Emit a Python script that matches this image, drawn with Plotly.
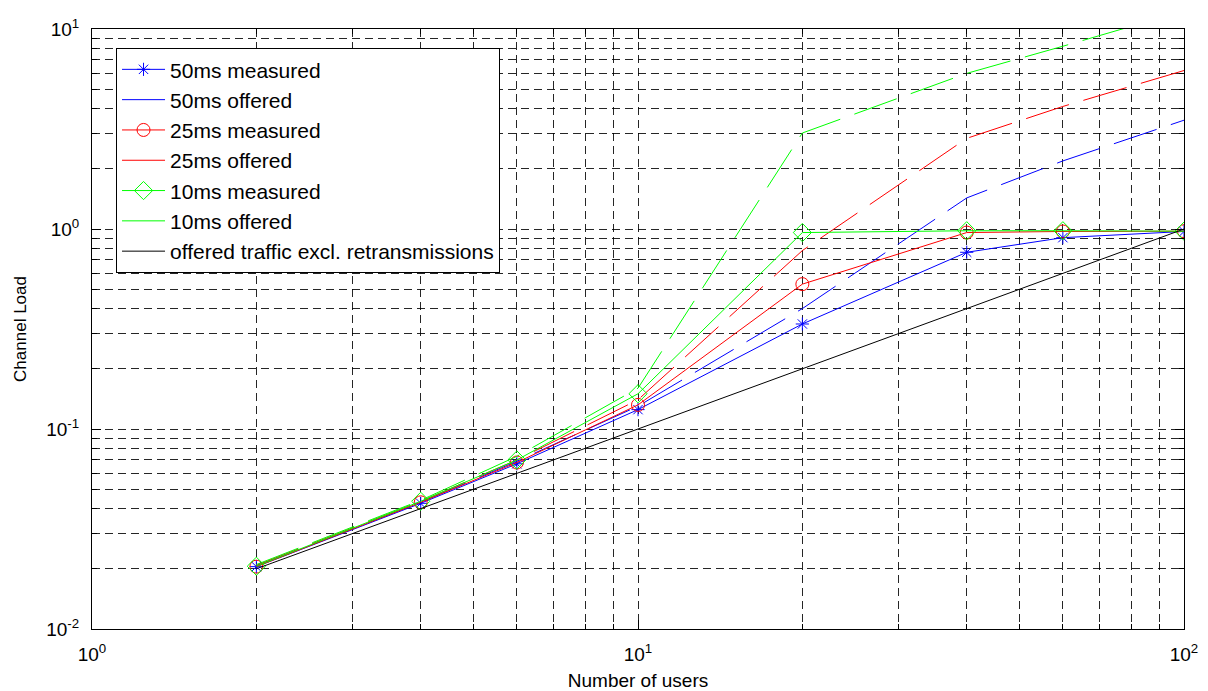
import plotly.graph_objects as go

users = [2, 4, 6, 10, 20, 40, 60, 100]
measured_50 = [0.0205, 0.0425, 0.067, 0.125, 0.335, 0.765, 0.905, 0.972]
offered_50 = [0.0207, 0.0430, 0.069, 0.130, 0.40, 1.43, 2.19, 3.50]
measured_25 = [0.0205, 0.0430, 0.068, 0.132, 0.53, 0.96, 0.972, 0.975]
offered_25 = [0.0208, 0.0435, 0.070, 0.140, 0.78, 2.84, 4.10, 6.20]
measured_10 = [0.0206, 0.0435, 0.070, 0.150, 0.96, 0.98, 0.98, 0.975]
offered_10 = [0.0210, 0.0440, 0.073, 0.160, 3.02, 6.00, 8.20, 12.3]
offered_excl = [0.02, 0.04, 0.06, 0.10, 0.20, 0.40, 0.60, 1.00]

x_tickvals = [1, 10, 100]
x_ticktext = ["10<sup>0</sup>", "10<sup>1</sup>", "10<sup>2</sup>"]
y_tickvals = [0.01, 0.1, 1, 10]
y_ticktext = ["10<sup>-2</sup>", "10<sup>-1</sup>", "10<sup>0</sup>", "10<sup>1</sup>"]
x_minor = [2, 3, 4, 5, 6, 7, 8, 9, 20, 30, 40, 50, 60, 70, 80, 90]
y_minor = [0.02, 0.03, 0.04, 0.05, 0.06, 0.07, 0.08, 0.09,
           0.2, 0.3, 0.4, 0.5, 0.6, 0.7, 0.8, 0.9,
           2, 3, 4, 5, 6, 7, 8, 9]

BLUE, RED, GREEN, BLACK = "#0000FF", "#FF0000", "#00FF00", "#000000"
DASH = "45px,15px"
FONT = "Liberation Sans, Arial"

fig = go.Figure()
fig.add_trace(go.Scatter(x=users, y=measured_50, name="50ms measured", mode="lines+markers", legendgroup="a",
                         line=dict(color=BLUE, width=1),
                         marker=dict(symbol="asterisk-open", size=11, color=BLUE, line=dict(color=BLUE, width=1))))
fig.add_trace(go.Scatter(x=users, y=offered_50, name="50ms offered", mode="lines", legendgroup="b",
                         line=dict(color=BLUE, width=1, dash=DASH)))
fig.add_trace(go.Scatter(x=users, y=measured_25, name="25ms measured", mode="lines+markers", legendgroup="c",
                         line=dict(color=RED, width=1),
                         marker=dict(symbol="circle-open", size=13, color=RED, line=dict(color=RED, width=1))))
fig.add_trace(go.Scatter(x=users, y=offered_25, name="25ms offered", mode="lines", legendgroup="d",
                         line=dict(color=RED, width=1, dash=DASH)))
fig.add_trace(go.Scatter(x=users, y=measured_10, name="10ms measured", mode="lines+markers", legendgroup="e",
                         line=dict(color=GREEN, width=1),
                         marker=dict(symbol="diamond-open", size=14, color=GREEN, line=dict(color=GREEN, width=1))))
fig.add_trace(go.Scatter(x=users, y=offered_10, name="10ms offered", mode="lines", legendgroup="f",
                         line=dict(color=GREEN, width=1, dash=DASH)))
fig.add_trace(go.Scatter(x=users, y=offered_excl, name="offered traffic excl. retransmissions", mode="lines",
                         legendgroup="g", line=dict(color=BLACK, width=1)))

GRID = "rgba(0,0,0,0.85)"
GDASH = "8px,5px"
common = dict(
    showline=True, linecolor="black", linewidth=1, mirror="allticks",
    ticks="inside", ticklen=9, tickcolor="black", tickwidth=1,
    showgrid=True, gridcolor=GRID, griddash=GDASH, gridwidth=1,
    zeroline=False, tickmode="array",
    tickfont=dict(family=FONT, size=19, color="black"),
)

fig.update_xaxes(type="log", range=[0, 2], tickvals=x_tickvals, ticktext=x_ticktext,
                 minor=dict(tickmode="array", tickvals=x_minor, ticks="inside", ticklen=5,
                            tickcolor="black", showgrid=True, gridcolor=GRID, griddash=GDASH, gridwidth=1),
                 title=dict(text="Number of users", font=dict(family=FONT, size=19, color="black"),
                            standoff=9),
                 ticklabelstandoff=8,
                 **common)
fig.update_yaxes(type="log", range=[-2, 1], tickvals=y_tickvals, ticktext=y_ticktext,
                 minor=dict(tickmode="array", tickvals=y_minor, ticks="inside", ticklen=5,
                            tickcolor="black", showgrid=True, gridcolor=GRID, griddash=GDASH, gridwidth=1),
                 title=dict(text="Channel Load", font=dict(family=FONT, size=17, color="black"),
                            standoff=15),
                 ticklabelstandoff=8,
                 **common)

fig.update_layout(
    width=1208, height=691,
    margin=dict(l=92, r=24, t=29, b=62, autoexpand=False),
    paper_bgcolor="white", plot_bgcolor="white",
    font=dict(family=FONT, color="black"),
    showlegend=True,
    legend=dict(x=0.022, y=0.968, xanchor="left", yanchor="top",
                bgcolor="white", bordercolor="black", borderwidth=1,
                font=dict(family=FONT, size=21, color="black"),
                traceorder="grouped", tracegroupgap=0, itemwidth=43),
)

fig.write_html("out.html", config={"displayModeBar": False},
               post_script="document.body.style.margin='0';")
